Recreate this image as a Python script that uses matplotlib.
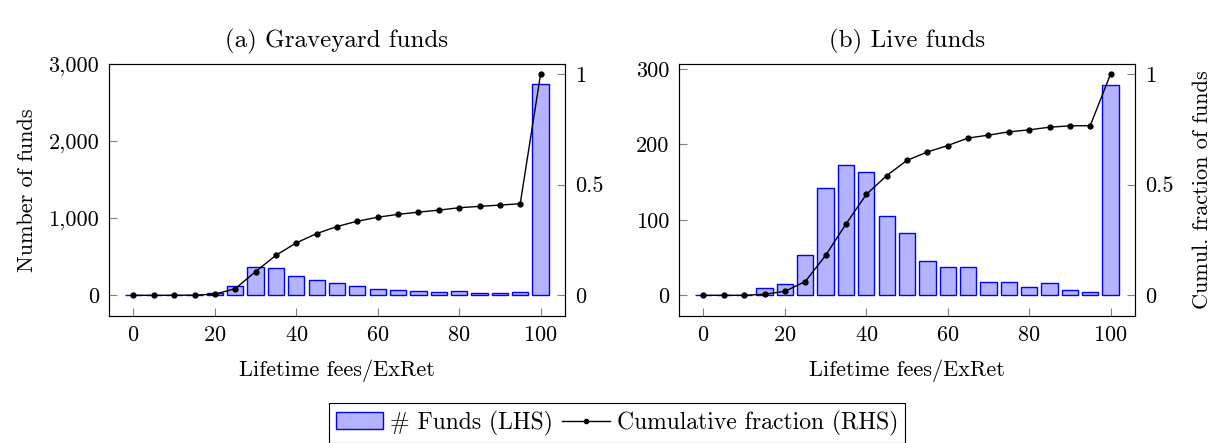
import numpy as np
import matplotlib
matplotlib.use("Agg")
import matplotlib.pyplot as plt
from matplotlib.ticker import FuncFormatter
from matplotlib.patches import Patch
from matplotlib.lines import Line2D

plt.rcParams['font.family'] = 'serif'
plt.rcParams['font.serif'] = ['cmr10', 'DejaVu Serif']
plt.rcParams['mathtext.fontset'] = 'cm'
plt.rcParams['axes.formatter.use_mathtext'] = True

# Lifetime fees / ExRet buckets
bins = [0, 5, 10, 15, 20, 25, 30, 35, 40, 45, 50, 55, 60, 65, 70, 75, 80, 85, 90, 95, 100]

# Graveyard funds
grave_counts = [0, 0, 5, 10, 30, 117, 364, 355, 255, 195, 156, 117, 87, 65, 61, 39, 52, 30, 35, 39, 2740]
grave_cum = [0, 0, 0, 0.001, 0.005, 0.03, 0.107, 0.181, 0.237, 0.279, 0.311, 0.335, 0.353,
             0.366, 0.376, 0.385, 0.396, 0.402, 0.408, 0.414, 1.0]

# Live funds
live_counts = [0, 0, 0, 9, 15, 53, 142, 173, 163, 105, 82, 45, 38, 38, 17, 17, 11, 16, 7.5, 4, 279]
live_cum = [0, 0, 0, 0.005, 0.018, 0.062, 0.18, 0.322, 0.456, 0.541, 0.610, 0.648, 0.677,
            0.711, 0.724, 0.739, 0.748, 0.760, 0.766, 0.767, 1.0]

fs = 16
bar_face = '#b3b3ff'
bar_edge = '#0000ff'
tick_col = '#808080'

fig = plt.figure(figsize=(12.13, 4.43), dpi=100)
W, H = 1213, 443


def add_panel(x0, x1, counts, cum, ylim, yticks, title, left_label, right_label):
    ax = fig.add_axes([x0 / W, 1 - 316 / H, (x1 - x0) / W, (316 - 63.7) / H])
    ax.bar(bins, counts, width=4, color=bar_face, edgecolor=bar_edge, linewidth=1, zorder=2)
    ax.set_xlim(-6, 106)
    ax.set_ylim(*ylim)
    ax.set_yticks(yticks)
    ax.set_xticks([0, 20, 40, 60, 80, 100])
    ax.yaxis.set_major_formatter(FuncFormatter(lambda v, p: '{:,.0f}'.format(v)))
    ax.tick_params(direction='in', length=6, color=tick_col, labelsize=fs, pad=7)
    ax.set_xlabel('Lifetime fees/ExRet', fontsize=fs, labelpad=10)
    ax.set_title(title, fontsize=fs + 2, pad=12)
    if left_label:
        ax.set_ylabel(left_label, fontsize=fs, labelpad=8)
    for s in ax.spines.values():
        s.set_color('#404040')

    ax2 = ax.twinx()
    ax2.plot(bins, cum, color='black', linewidth=1, marker='o', markersize=3.5, zorder=3)
    ax2.set_ylim(-0.0935, 1.047)
    ax2.set_yticks([0, 0.5, 1])
    ax2.yaxis.set_major_formatter(FuncFormatter(lambda v, p: '{:g}'.format(v)))
    ax2.tick_params(direction='in', length=6, color=tick_col, labelsize=fs, pad=7)
    if right_label:
        ax2.set_ylabel(right_label, fontsize=fs, labelpad=14)
    return ax, ax2


add_panel(109, 565, grave_counts, grave_cum, (-268, 3000), [0, 1000, 2000, 3000],
          '(a) Graveyard funds', 'Number of funds', None)
add_panel(679, 1135, live_counts, live_cum, (-27.5, 307), [0, 100, 200, 300],
          '(b) Live funds', None, 'Cumul. fraction of funds')

handles = [Patch(facecolor=bar_face, edgecolor=bar_edge, linewidth=1),
           Line2D([0], [0], color='black', linewidth=1, marker='o', markersize=3)]
leg = fig.legend(handles, ['# Funds (LHS)', 'Cumulative fraction (RHS)'], ncol=2,
                 loc='center', bbox_to_anchor=(617 / W, 1 - 423 / H), fontsize=fs + 1,
                 frameon=True, fancybox=False, edgecolor='black', framealpha=1,
                 handlelength=2.0, handletextpad=0.3, columnspacing=0.4,
                 borderpad=0.3)
leg.get_frame().set_linewidth(0.8)

fig.savefig('out.png', dpi=100)
